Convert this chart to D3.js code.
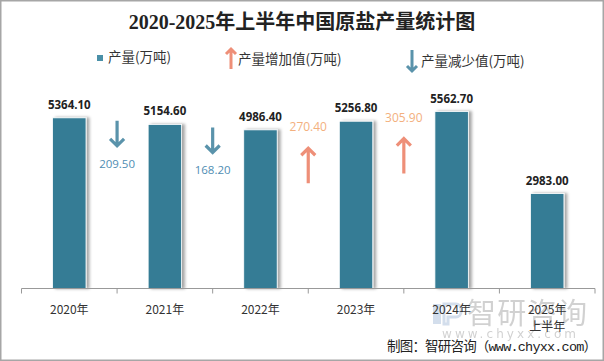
<!DOCTYPE html>
<html>
<head>
<meta charset="utf-8">
<script src="https://cdn.jsdelivr.net/npm/d3@7"></script>
<style>
  body { margin: 0; background: #fff; }
  svg { display: block; }
</style>
</head>
<body>
<svg id="chart" width="604" height="361"></svg>
<script>
// chart data
const years = ['2020年', '2021年', '2022年', '2023年', '2024年', '2025年'];
const output = [5364.10, 5154.60, 4986.40, 5256.80, 5562.70, 2983.00];
// change between year i and year i+1 (only the four shown in the picture)
const changeFrom = [0, 1, 2, 3];
const changeValues = [-209.50, -168.20, 270.40, 305.90];

const cjk = '"Noto Sans CJK SC", "Noto Sans", sans-serif';
const barColor = '#367c95';
const upArrow = '#ee8f78';
const upText = '#f3b07e';
const downArrow = '#5a93ab';
const downText = '#4f8db3';

const svg = d3.select('#chart');

// drop shadow for the bars
const defs = svg.append('defs');
const f = defs.append('filter').attr('id', 'shadow')
    .attr('x', '-20%').attr('y', '-5%').attr('width', '160%').attr('height', '110%');
f.append('feDropShadow').attr('dx', 3).attr('dy', 0).attr('stdDeviation', 1.4)
    .attr('flood-color', '#000').attr('flood-opacity', 0.35);

// frame
svg.append('rect').attr('x', 0.5).attr('y', 0.5).attr('width', 603).attr('height', 360)
    .attr('fill', '#fff').attr('stroke', '#a6a6a6').attr('stroke-width', 2);

// watermark (behind everything)
const wm = svg.append('g').attr('opacity', 0.45);
wm.append('rect').attr('x', 433).attr('y', 304).attr('width', 8).attr('height', 20).attr('fill', '#9fb8d6');
wm.append('path').attr('d', 'M444,304h12a5,5 0 0 1 5,5v3a5,5 0 0 1 -5,5h-8v7h-4z')
    .attr('fill', 'none').attr('stroke', '#9fb8d6').attr('stroke-width', 3);
wm.append('text').attr('x', 467).attr('y', 324)
    .attr('font-family', cjk).attr('font-size', 29).attr('fill', '#9a9a9a')
    .attr('textLength', 120)
    .text('智研咨询');
wm.append('text').attr('x', 442).attr('y', 338)
    .attr('font-family', '"DejaVu Sans", sans-serif').attr('font-size', 12).attr('fill', '#9a9a9a')
    .attr('textLength', 134)
    .text('www.chyxx.com');

// title
svg.append('text')
    .attr('x', 302).attr('y', 29)
    .attr('text-anchor', 'middle')
    .attr('font-family', '"Liberation Serif", "Noto Sans CJK SC", serif')
    .attr('font-weight', 'bold')
    .attr('font-size', 20)
    .attr('fill', '#222')
    .text('2020-2025年上半年中国原盐产量统计图');

// scales
const x = d3.scaleBand().domain(years).range([21.5, 595]).paddingInner(0.65).paddingOuter(0.325);
const y = d3.scaleLinear().domain([0, 6000]).range([288.5, 97.6]);
const step = x.step();
const x0 = x.range()[0];

// bars
svg.append('g').selectAll('rect')
    .data(output)
    .enter()
    .append('rect')
    .attr('x', (d, i) => x(years[i]))
    .attr('y', d => y(d))
    .attr('width', x.bandwidth())
    .attr('height', d => y(0) - y(d))
    .attr('fill', barColor)
    .attr('stroke', '#fff')
    .attr('stroke-width', 0.8)
    .attr('filter', 'url(#shadow)');

// value labels
svg.append('g').selectAll('text')
    .data(output)
    .enter()
    .append('text')
    .attr('x', (d, i) => x(years[i]) + x.bandwidth() / 2)
    .attr('y', d => y(d) - 9)
    .attr('text-anchor', 'middle')
    .attr('font-family', '"Open Sans", "Noto Sans", sans-serif')
    .attr('font-weight', 'bold')
    .attr('font-size', 11.5)
    .attr('fill', '#222')
    .text(d => d.toFixed(2));

// x axis
const axis = svg.append('g').attr('transform', `translate(0,${y(0)})`);
axis.append('line').attr('x1', x0).attr('x2', x.range()[1]).attr('stroke', '#999');
axis.selectAll('.tk')
    .data(d3.range(years.length + 1))
    .enter()
    .append('line')
    .attr('x1', i => x0 + i * step).attr('x2', i => x0 + i * step)
    .attr('y1', 0).attr('y2', 5)
    .attr('stroke', '#999');
const lbl = axis.selectAll('.lb')
    .data(years)
    .enter()
    .append('text')
    .attr('x', d => x(d) + x.bandwidth() / 2)
    .attr('y', 25)
    .attr('text-anchor', 'middle')
    .attr('font-family', cjk)
    .attr('font-size', 12)
    .attr('fill', '#333');
lbl.append('tspan').text(d => d);
lbl.filter((d, i) => i === years.length - 1)
    .append('tspan')
    .attr('x', d => x(d) + x.bandwidth() / 2)
    .attr('dy', 17)
    .text('上半年');

// arrow helper
function arrowPath(cx, top, bottom, up, head) {
    if (up) {
        return `M${cx},${bottom}L${cx},${top + 1}M${cx - head},${top + head}L${cx},${top}L${cx + head},${top + head}`;
    }
    return `M${cx},${top}L${cx},${bottom - 1}M${cx - head},${bottom - head}L${cx},${bottom}L${cx + head},${bottom - head}`;
}

// change arrows and labels
const chg = svg.append('g');
changeValues.forEach((v, k) => {
    const i = changeFrom[k];
    const cx = x0 + (i + 1) * step;
    const ref = y(Math.max(output[i], output[i + 1]));
    if (v < 0) {
        chg.append('path')
            .attr('d', arrowPath(cx, ref + 3, ref + 28, false, 7))
            .attr('fill', 'none').attr('stroke', downArrow)
            .attr('stroke-width', 3.2).attr('stroke-linejoin', 'miter');
        chg.append('text')
            .attr('x', cx).attr('y', ref + 50)
            .attr('text-anchor', 'middle')
            .attr('font-family', '"Open Sans", "Noto Sans", sans-serif')
            .attr('font-size', 11.5)
            .attr('fill', downText)
            .text(Math.abs(v).toFixed(2));
    } else {
        chg.append('text')
            .attr('x', cx).attr('y', ref + 10)
            .attr('text-anchor', 'middle')
            .attr('font-family', '"Open Sans", "Noto Sans", sans-serif')
            .attr('font-size', 12)
            .attr('fill', upText)
            .text(v.toFixed(2));
        chg.append('path')
            .attr('d', arrowPath(cx, ref + 27, ref + 62, true, 7))
            .attr('fill', 'none').attr('stroke', upArrow)
            .attr('stroke-width', 3.2).attr('stroke-linejoin', 'miter');
    }
});

// legend
const lg = svg.append('g').attr('font-family', cjk).attr('font-size', 13.5).attr('fill', '#333');
lg.append('rect').attr('x', 97).attr('y', 55).attr('width', 6).attr('height', 6).attr('fill', '#4a90a8');
lg.append('text').attr('x', 108).attr('y', 62).text('产量(万吨)');
lg.append('path').attr('d', arrowPath(231, 49, 69, true, 5))
    .attr('fill', 'none').attr('stroke', upArrow).attr('stroke-width', 3);
lg.append('text').attr('x', 238).attr('y', 64).text('产量增加值(万吨)');
lg.append('path').attr('d', arrowPath(412, 50, 71, false, 5))
    .attr('fill', 'none').attr('stroke', downArrow).attr('stroke-width', 3);
lg.append('text').attr('x', 421).attr('y', 66).text('产量减少值(万吨)');

// source note
svg.append('text').attr('x', 387).attr('y', 351)
    .attr('font-family', '"Liberation Mono", "Noto Sans CJK SC", monospace')
    .attr('font-size', 13.5).attr('fill', '#222')
    .attr('textLength', 210)
    .text('制图：智研咨询（www.chyxx.com）');
</script>
</body>
</html>
